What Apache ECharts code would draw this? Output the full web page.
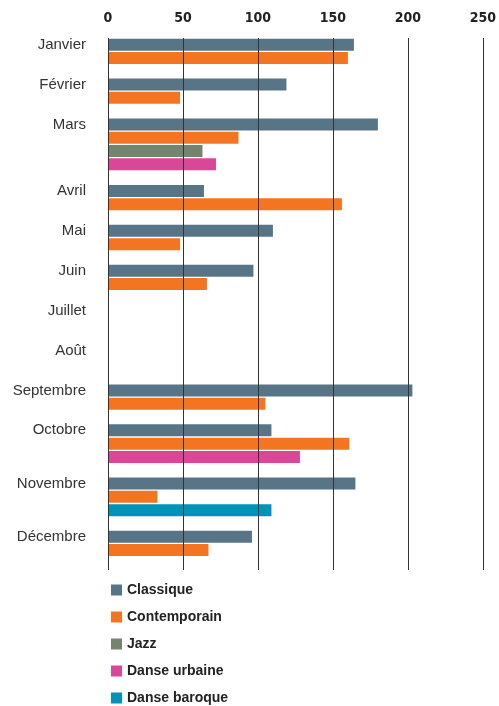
<!DOCTYPE html>
<html>
<head>
<meta charset="utf-8">
<script src="https://cdn.jsdelivr.net/npm/echarts@6/dist/echarts.min.js"></script>
<style>
  html, body { margin: 0; padding: 0; background: #fff; }
  #chart { width: 499px; height: 706px; }
</style>
</head>
<body>
<div id="chart"></div>
<script>
// données
const months = ['Janvier', 'Février', 'Mars', 'Avril', 'Mai', 'Juin', 'Juillet', 'Août', 'Septembre', 'Octobre', 'Novembre', 'Décembre']
const classique = [164, 119, 180, 64, 110, 97, null, null, 203, 109, 165, 96]
const contemporain = [160, 48, 87, 156, 48, 66, null, null, 105, 161, 33, 67]
const jazz = [null, null, 63, null, null, null, null, null, null, null, null, null]
const danseUrbaine = [null, null, 72, null, null, null, null, null, null, 128, null, null]
const danseBaroque = [null, null, null, null, null, null, null, null, null, null, 109, null]
const xTicks = [0, 50, 100, 150, 200, 250]

const seriesDefs = [
  { name: 'Classique', data: classique, color: '#587588' },
  { name: 'Contemporain', data: contemporain, color: '#f47521' },
  { name: 'Jazz', data: jazz, color: '#74846e' },
  { name: 'Danse urbaine', data: danseUrbaine, color: '#da4798' },
  { name: 'Danse baroque', data: danseBaroque, color: '#0093b8' }
]

// chaque mois = une ligne par série présente (min 2) + une ligne vide
const slotLabels = []
const slotData = seriesDefs.map(() => [])
months.forEach((m, i) => {
  const present = seriesDefs.map((s, k) => (s.data[i] != null ? k : -1)).filter(k => k >= 0)
  const n = Math.max(present.length, 2) + 1
  for (let j = 0; j < n; j++) {
    slotLabels.push(j === 0 ? m : '')
    seriesDefs.forEach((s, k) => {
      slotData[k].push(present[j] === k ? s.data[i] : null)
    })
  }
})

const myChart = echarts.init(document.getElementById('chart'))
const option = {
  animation: false,
  grid: { left: 108, right: 12, top: 38, height: 532 },
  xAxis: {
    type: 'value',
    position: 'top',
    min: xTicks[0],
    max: xTicks[xTicks.length - 1],
    interval: 50,
    z: 10,
    axisLine: { show: false },
    axisTick: { show: false },
    axisLabel: {
      margin: 13,
      color: '#222',
      fontSize: 14,
      fontWeight: 'bold',
      fontFamily: '"Liberation Sans Narrow", "DejaVu Sans Condensed", sans-serif'
    },
    splitLine: { lineStyle: { color: '#333', width: 1 } }
  },
  yAxis: {
    type: 'category',
    inverse: true,
    data: slotLabels,
    axisLine: { show: false },
    axisTick: { show: false },
    axisLabel: {
      interval: 0,
      margin: 22,
      color: '#333',
      fontSize: 15,
      fontFamily: '"Liberation Sans", Arial, sans-serif'
    }
  },
  legend: {
    orient: 'vertical',
    left: 111,
    top: 583,
    height: 123,
    padding: 0,
    icon: 'rect',
    itemWidth: 11,
    itemHeight: 11,
    itemGap: 13,
    data: seriesDefs.map(s => s.name),
    textStyle: {
      color: '#222',
      fontSize: 14,
      fontWeight: 'bold',
      fontFamily: '"Liberation Sans", Arial, sans-serif'
    }
  },
  series: seriesDefs.map((s, k) => ({
    name: s.name,
    type: 'bar',
    stack: 'all',
    barWidth: 12,
    itemStyle: { color: s.color },
    data: slotData[k]
  }))
}
myChart.setOption(option)
</script>
</body>
</html>
